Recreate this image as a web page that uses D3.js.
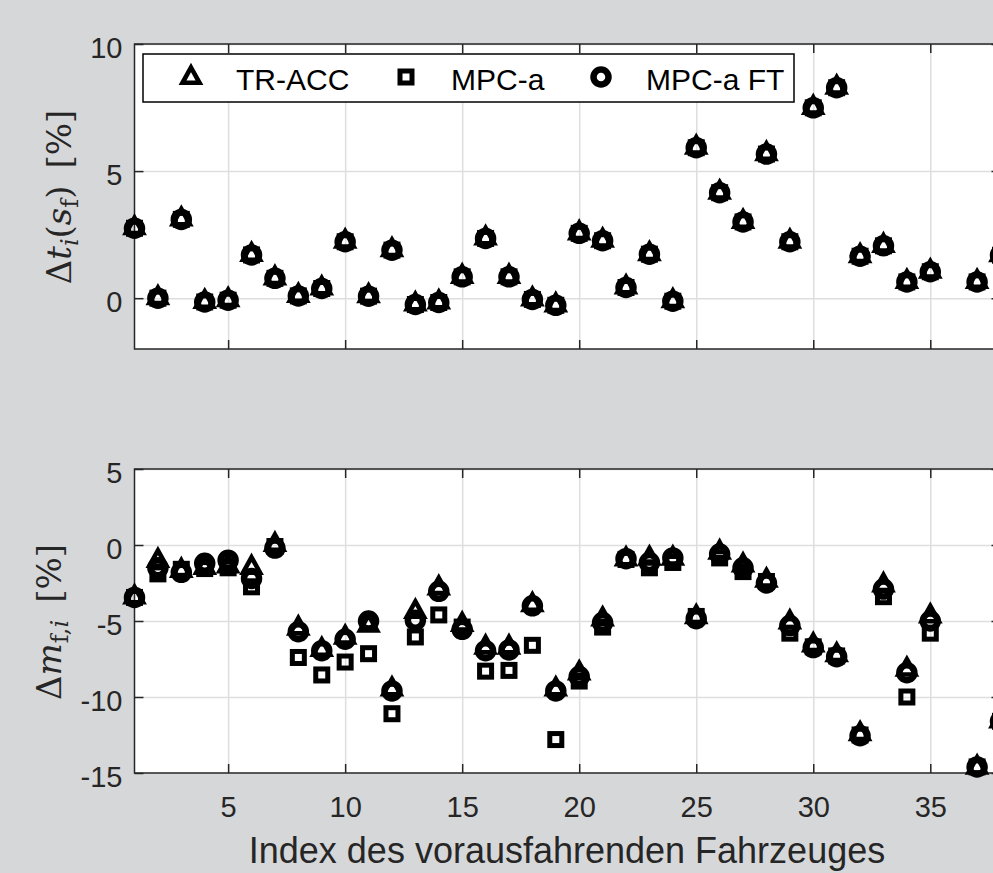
<!DOCTYPE html>
<head>
    <meta charset="utf-8">
    <title>Delta t / Delta m</title>
</head>

<script src="https://d3js.org/d3.v7.min.js"></script>

<div id="graph"></div>

<script>
    // vehicle index (36 has no value)
    var idx = [1, 2, 3, 4, 5, 6, 7, 8, 9, 10, 11, 12, 13, 14, 15, 16, 17, 18, 19, 20,
               21, 22, 23, 24, 25, 26, 27, 28, 29, 30, 31, 32, 33, 34, 35, 36, 37, 38];
    var xTicks = [5, 10, 15, 20, 25, 30, 35];
    var yTicksTop = [0, 5, 10];
    var yTicksBot = [-15, -10, -5, 0, 5];
    var seriesNames = ["TR-ACC", "MPC-a", "MPC-a FT"];

    // upper plot: delta t_i(s_f) [%]  (all three series lie on top of each other)
    var dtTR   = [2.75, 0.0, 3.1, -0.15, -0.08, 1.7, 0.78, 0.09, 0.38, 2.22, 0.08, 1.89, -0.25, -0.17, 0.84, 2.35, 0.84, -0.05, -0.28, 2.55,
                  2.26, 0.42, 1.73, -0.12, 5.92, 4.15, 3.0, 5.67, 2.22, 7.49, 8.28, 1.65, 2.06, 0.64, 1.04, null, 0.64, 1.69];
    var dtMPC  = [2.75, 0.0, 3.1, -0.15, -0.08, 1.7, 0.78, 0.09, 0.38, 2.22, 0.08, 1.89, -0.25, -0.17, 0.84, 2.35, 0.84, -0.05, -0.28, 2.55,
                  2.26, 0.42, 1.73, -0.12, 5.92, 4.15, 3.0, 5.67, 2.22, 7.49, 8.28, 1.65, 2.06, 0.64, 1.04, null, 0.64, 1.69];
    var dtFT   = [2.75, 0.0, 3.1, -0.15, -0.08, 1.7, 0.78, 0.09, 0.38, 2.22, 0.08, 1.89, -0.25, -0.17, 0.84, 2.35, 0.84, -0.05, -0.28, 2.55,
                  2.26, 0.42, 1.73, -0.12, 5.92, 4.15, 3.0, 5.67, 2.22, 7.49, 8.28, 1.65, 2.06, 0.64, 1.04, null, 0.64, 1.69];

    // lower plot: delta m_f,i [%]
    var dmTR   = [-3.45, -1.05, -1.7, -1.5, -1.4, -1.5, 0.0, -5.5, -6.9, -6.1, -5.3, -9.5, -4.4, -2.85, -5.25, -6.75, -6.75, -3.95, -9.5, -8.45,
                  -4.9, -0.95, -0.9, -0.9, -4.75, -0.5, -1.35, -2.35, -5.1, -6.6, -7.25, -12.45, -2.65, -8.2, -4.7, null, -14.65, -11.6];
    var dmMPC  = [-3.45, -1.9, -1.6, -1.55, -1.5, -2.75, -0.1, -7.4, -8.55, -7.7, -7.15, -11.1, -6.05, -4.6, -5.4, -8.3, -8.25, -6.6, -12.8, -8.95,
                  -5.4, -0.95, -1.5, -1.15, -4.7, -0.85, -1.75, -2.4, -5.8, -6.7, -7.3, -12.5, -3.4, -10.0, -5.8, null, -14.6, -11.6];
    var dmFT   = [-3.45, -1.5, -1.8, -1.2, -1.0, -2.2, -0.2, -5.7, -6.95, -6.2, -5.0, -9.6, -4.95, -3.05, -5.55, -6.95, -6.9, -4.0, -9.6, -8.65,
                  -5.1, -0.9, -1.15, -0.85, -4.85, -0.6, -1.5, -2.5, -5.3, -6.75, -7.35, -12.55, -2.9, -8.4, -5.0, null, -14.6, -11.6];

    var W = 993, H = 873;
    var axisCol = "#262626", gridCol = "#dedede";
    var sans = "'Liberation Sans', Arial, Helvetica, sans-serif";

    var svg = d3.select("#graph")
        .append("svg")
            .attr("width", W)
            .attr("height", H);

    svg.append("rect").attr("width", W).attr("height", H).attr("fill", "#d6d7d9");

    var x = d3.scaleLinear().domain([1, 38]).range([134.5, 1000.5]);

    // matlab style labels use a plain hyphen for negatives
    var fmt = function(d) { return d < 0 ? "-" + Math.abs(d) : "" + d; };

    // marker shapes
    function drawMarker(g, type, cx, cy) {
        if (type == 0) {
            g.append("path")
                .attr("d", "M0,-10.5L8.5,4.8L-8.5,4.8Z")
                .attr("transform", "translate(" + cx + "," + cy + ")")
                .attr("fill", "none").attr("stroke", "#000")
                .attr("stroke-width", 4.6).attr("stroke-linejoin", "miter");
        } else if (type == 1) {
            g.append("rect")
                .attr("x", cx - 6).attr("y", cy - 6)
                .attr("width", 12).attr("height", 12)
                .attr("fill", "none").attr("stroke", "#000")
                .attr("stroke-width", 5);
        } else {
            g.append("circle")
                .attr("cx", cx).attr("cy", cy).attr("r", 7.5)
                .attr("fill", "none").attr("stroke", "#000")
                .attr("stroke-width", 6.5);
        }
    }

    function panel(top, bottom, domain, yTicks, series, showX) {
        var y = d3.scaleLinear().domain(domain).range([bottom, top]);
        var left = x.range()[0], right = x.range()[1];
        var g = svg.append("g");

        g.append("rect")
            .attr("x", left).attr("y", top)
            .attr("width", right - left).attr("height", bottom - top)
            .attr("fill", "#fff");

        // grid
        g.append("g")
            .attr("transform", "translate(0," + bottom + ")")
            .call(d3.axisBottom(x).tickValues(xTicks).tickSize(-(bottom - top)).tickFormat(""))
            .call(function(a) {
                a.select(".domain").remove();
                a.selectAll("line").attr("stroke", gridCol).attr("stroke-width", 1.5);
            });
        g.append("g")
            .attr("transform", "translate(" + left + ",0)")
            .call(d3.axisLeft(y).tickValues(yTicks).tickSize(-(right - left)).tickFormat(""))
            .call(function(a) {
                a.select(".domain").remove();
                a.selectAll("line").attr("stroke", gridCol).attr("stroke-width", 1.5);
            });

        // ticks on all four sides, pointing inwards
        function styleTicks(a) {
            a.select(".domain").remove();
            a.selectAll("line").attr("stroke", axisCol).attr("stroke-width", 1.5);
        }
        var xb = g.append("g")
            .attr("transform", "translate(0," + bottom + ")")
            .call(d3.axisBottom(x).tickValues(xTicks).tickSizeInner(-9).tickSizeOuter(0)
                .tickFormat(showX ? fmt : ""))
            .call(styleTicks);
        xb.selectAll("text")
            .attr("y", 43.5).attr("dy", 0)
            .attr("fill", axisCol)
            .style("font-family", sans)
            .style("font-size", "29px");
        g.append("g")
            .attr("transform", "translate(0," + top + ")")
            .call(d3.axisTop(x).tickValues(xTicks).tickSizeInner(-9).tickSizeOuter(0).tickFormat(""))
            .call(styleTicks);
        var yl = g.append("g")
            .attr("transform", "translate(" + left + ",0)")
            .call(d3.axisLeft(y).tickValues(yTicks).tickSizeInner(-9).tickSizeOuter(0).tickFormat(fmt))
            .call(styleTicks);
        yl.selectAll("text")
            .attr("x", -12).attr("dy", 13.4)
            .attr("fill", axisCol)
            .style("font-family", sans)
            .style("font-size", "29px");
        g.append("g")
            .attr("transform", "translate(" + right + ",0)")
            .call(d3.axisRight(y).tickValues(yTicks).tickSizeInner(-9).tickSizeOuter(0).tickFormat(""))
            .call(styleTicks);

        // frame
        g.append("rect")
            .attr("x", left).attr("y", top)
            .attr("width", right - left).attr("height", bottom - top)
            .attr("fill", "none").attr("stroke", axisCol).attr("stroke-width", 1.5);

        // markers (not clipped, like the original)
        var mg = g.append("g");
        series.forEach(function(vals, s) {
            idx.forEach(function(i, k) {
                if (vals[k] == null) return;
                drawMarker(mg, s, x(i), y(vals[k]));
            });
        });
        return g;
    }

    panel(44, 349, [-2, 10], yTicksTop, [dtTR, dtMPC, dtFT], false);
    panel(469, 773, [-15, 5], yTicksBot, [dmTR, dmMPC, dmFT], true);

    // legend
    var leg = svg.append("g");
    leg.append("rect")
        .attr("x", 143).attr("y", 54).attr("width", 651).attr("height", 48)
        .attr("fill", "#fff").attr("stroke", "#000").attr("stroke-width", 1.5);
    var legX = [191, 406, 601];
    seriesNames.forEach(function(name, s) {
        drawMarker(leg, s, legX[s], s == 0 ? 78 : 77);
        leg.append("text")
            .attr("x", legX[s] + 45).attr("y", 90)
            .attr("fill", "#000")
            .style("font-family", sans)
            .style("font-size", "30px")
            .text(name);
    });

    // x label
    svg.append("text")
        .attr("x", 567).attr("y", 863)
        .attr("text-anchor", "middle")
        .attr("fill", axisCol)
        .style("font-family", sans)
        .style("font-size", "36px")
        .text("Index des vorausfahrenden Fahrzeuges");

    // y labels (LaTeX style)
    var serif = "'DejaVu Serif', 'Liberation Serif', serif";
    var yl1 = svg.append("text")
        .attr("transform", "translate(71,197) rotate(-90)")
        .attr("text-anchor", "middle")
        .attr("fill", axisCol)
        .style("font-family", serif)
        .style("font-size", "34px");
    yl1.append("tspan").text("Δ");
    yl1.append("tspan").style("font-style", "italic").text("t");
    yl1.append("tspan").style("font-style", "italic").style("font-size", "24px").attr("dy", 7).text("i");
    yl1.append("tspan").attr("dy", -7).text("(");
    yl1.append("tspan").style("font-style", "italic").text("s");
    yl1.append("tspan").style("font-size", "24px").attr("dy", 7).text("f");
    yl1.append("tspan").attr("dy", -7).text(")\u2002[%]");

    var yl2 = svg.append("text")
        .attr("transform", "translate(61,622) rotate(-90)")
        .attr("text-anchor", "middle")
        .attr("fill", axisCol)
        .style("font-family", serif)
        .style("font-size", "34px");
    yl2.append("tspan").text("Δ");
    yl2.append("tspan").style("font-style", "italic").text("m");
    yl2.append("tspan").style("font-size", "24px").attr("dy", 7).text("f,");
    yl2.append("tspan").style("font-style", "italic").style("font-size", "24px").text("i");
    yl2.append("tspan").attr("dy", -7).text("\u2002[%]");
</script>

<style>
    html, body {
        margin: 0;
        padding: 0;
        overflow: hidden;
        background: #d6d7d9;
    }
    svg { display: block; }
</style>
